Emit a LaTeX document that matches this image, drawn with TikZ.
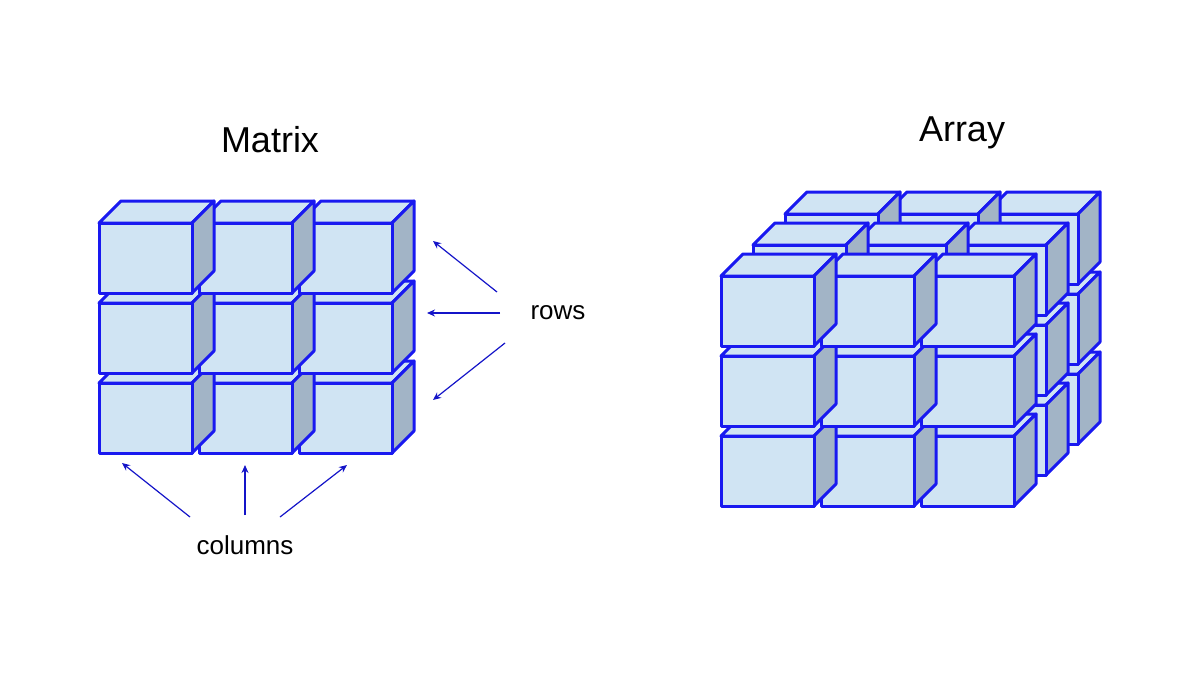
\documentclass[tikz,border=0pt]{standalone}
\usepackage{fontspec}
\setmainfont{Liberation Sans}
\usetikzlibrary{arrows.meta}
\definecolor{facec}{RGB}{208,228,243}
\definecolor{sidec}{RGB}{162,180,198}
\definecolor{edgec}{RGB}{25,25,240}
\definecolor{arrc}{RGB}{20,20,200}
\newcommand{\mycube}[2]{%
  \filldraw[cubeline,fill=facec] (#1,#2) -- ++(22,-22) -- ++(93,0) -- ++(-22,22) -- cycle;
  \filldraw[cubeline,fill=sidec] (#1+93,#2) -- ++(22,-22) -- ++(0,70) -- ++(-22,22) -- cycle;
  \filldraw[cubeline,fill=facec] (#1,#2) rectangle ++(93,70);
}
\begin{document}
\begin{tikzpicture}[x=0.5pt,y=-0.5pt,
  cubeline/.style={draw=edgec,line width=1.5pt,line join=round},
  arr/.style={draw=arrc,line width=0.6pt,-{Stealth[length=4pt,width=3.5pt]}},
  lbl/.style={font=\fontsize{13}{15}\selectfont},
  ttl/.style={font=\fontsize{18}{21}\selectfont}]
\useasboundingbox (0,0) rectangle (1200,675);
% Matrix
\foreach \r in {2,1,0}{\foreach \c in {2,1,0}{\mycube{99+100*\c}{223+80*\r}}}
% Array
\foreach \l in {2,1,0}{\foreach \r in {2,1,0}{\foreach \c in {2,1,0}{\mycube{721+100*\c+32*\l}{276+80*\r-31*\l}}}}
\node[ttl] (mt) at (270,140) {Matrix};
\node[ttl] (at) at (962,133) {Array};
\node[lbl] (rows) at (558,313) {rows};
\node[lbl] (cols) at (245,545) {columns};
\coordinate (r1) at (433,241);
\coordinate (r2) at (427,313);
\coordinate (r3) at (433,400);
\coordinate (r0) at (500,313);
\coordinate (c1) at (122,463);
\coordinate (c2) at (245,465);
\coordinate (c3) at (347,465);
\draw[arr] (497,292) -- (r1);
\draw[arr] (r0) -- (r2);
\draw[arr] (505,343) -- (r3);
\draw[arr] (190,517) -- (c1);
\draw[arr] (245,515) -- (c2);
\draw[arr] (280,517) -- (c3);
\end{tikzpicture}
\end{document}
